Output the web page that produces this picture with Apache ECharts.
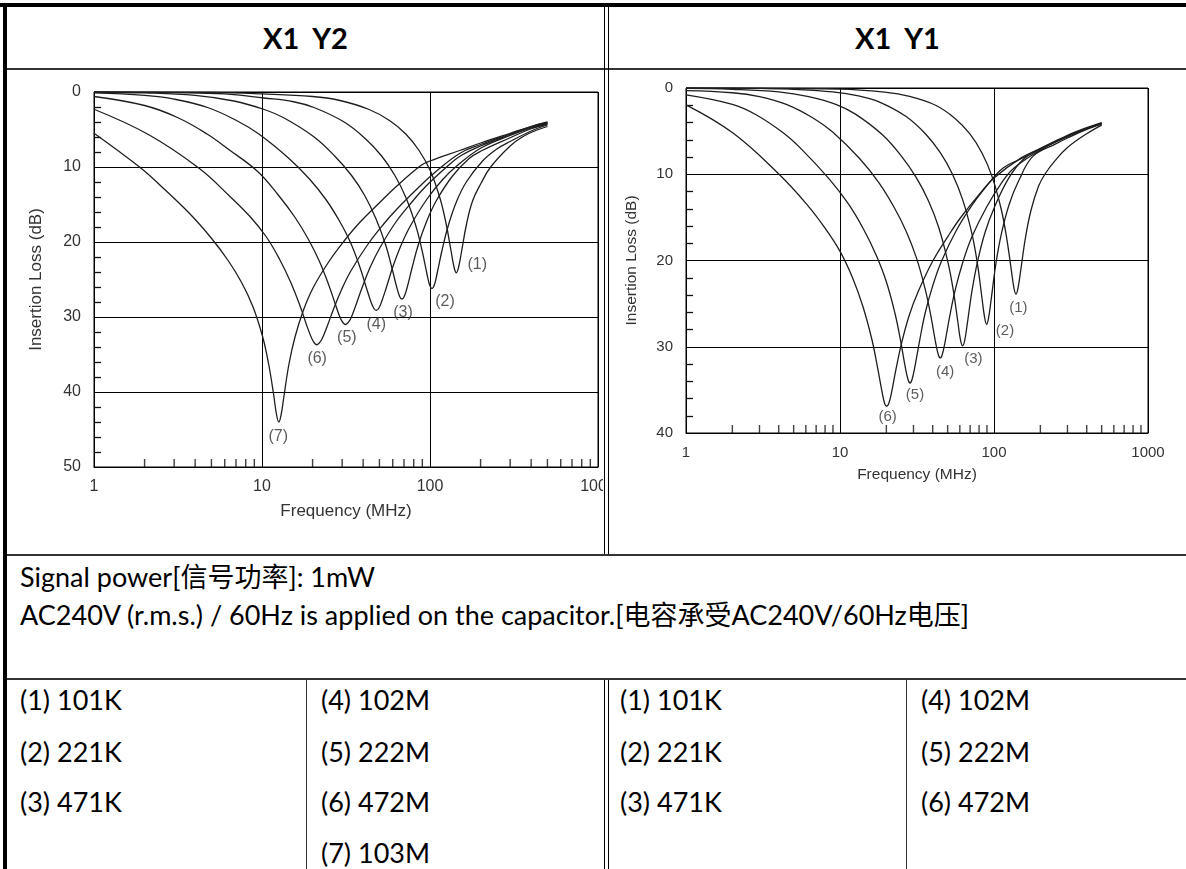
<!DOCTYPE html>
<html><head><meta charset="utf-8">
<script src="https://cdn.jsdelivr.net/npm/echarts@6/dist/echarts.min.js"></script>
<style>
html,body{margin:0;padding:0;background:#fff;}
body{width:1186px;height:869px;position:relative;overflow:hidden;font-family:Lato,"Noto Sans CJK SC",sans-serif;color:#000;}
.ln{position:absolute;background:#000;}
.t{position:absolute;white-space:pre;font-size:27px;height:30px;line-height:30px;}
.h{position:absolute;white-space:pre;font-weight:bold;font-size:29px;height:34px;line-height:34px;text-align:center;}
.chart{position:absolute;overflow:hidden;}
</style></head><body>
<div class="ln" style="left:0;top:3px;width:1186px;height:4px"></div>
<div class="ln" style="left:3px;top:3px;width:4px;height:866px"></div>
<div class="ln" style="left:7px;top:68px;width:1179px;height:2px;background:#333"></div>
<div class="ln" style="left:604px;top:7px;width:1px;height:547px"></div>
<div class="ln" style="left:608px;top:7px;width:1px;height:547px"></div>
<div class="ln" style="left:7px;top:554px;width:1179px;height:2px;background:#333"></div>
<div class="ln" style="left:7px;top:678px;width:1179px;height:2px;background:#333"></div>
<div class="ln" style="left:604px;top:680px;width:1px;height:189px"></div>
<div class="ln" style="left:608px;top:680px;width:1px;height:189px"></div>
<div class="ln" style="left:306px;top:680px;width:1px;height:189px;background:#333"></div>
<div class="ln" style="left:906px;top:680px;width:1px;height:189px;background:#333"></div>

<div class="h" style="left:7px;width:597px;top:21px">X1  Y2</div>
<div class="h" style="left:609px;width:577px;top:21px">X1  Y1</div>

<div class="t" style="left:20px;top:562px">Signal power[信号功率]: 1mW</div>
<div class="t" style="left:20px;top:600px">AC240V (r.m.s.) / 60Hz is applied on the capacitor.[电容承受AC240V/60Hz电压]</div>

<div id="tbl"></div>

<div id="c1" class="chart" style="left:8px;top:71px;width:595px;height:482px"></div>
<div id="c2" class="chart" style="left:609px;top:71px;width:577px;height:482px"></div>

<script>
// ---------- X1 Y2 (left chart) ----------
const freqL1=[1,5,10,20,28.7,43.05,57.4,71.75,86.1,100.45,114.8,124.8,133.5,139.2,143.5,147.8,153.5,165,179.4,200.9,229.6,300,360,430,500];
const lossL1=[0,0.05,0.25,0.6,1.1,2.3,3.8,5.6,7.8,10.5,14.2,17.6,21.2,23.4,24.1,23.4,21.5,17.6,14.5,12.2,10.0,7.2,5.9,5.1,4.6];
const freqL2=[1,3,6,10.28,15.42,20.56,30.84,41.12,51.4,61.68,71.96,82.24,89.44,95.6,99.7,102.8,105.9,110,118.2,128.5,143.9,164.5,205.6,250,300,400,500];
const lossL2=[0,0.08,0.25,0.8,1.3,2.1,4.0,6.2,8.5,11.1,14.1,17.8,21.0,24.1,25.8,26.2,25.8,24.3,21.0,17.8,14.6,12.0,9.2,7.6,6.6,5.2,4.4];
const freqL3=[1,2,4,6.81,10.2,13.62,20.43,27.24,34.05,40.86,47.67,54.48,59.25,63.33,66.06,68.1,70.14,72.87,78.3,85.1,95.3,109,136.2,170.3,200,300,400,500];
const lossL3=[0.03,0.12,0.45,1.2,2.3,3.5,6.0,8.6,11.1,13.8,16.9,20.4,23.4,26.0,27.3,27.6,27.3,26.2,23.4,20.4,17.3,14.5,11.2,8.9,7.9,6.1,4.9,4.3];
const freqL4=[1,2,3,4.79,7.185,9.58,14.37,19.16,23.95,28.74,33.53,38.32,41.67,44.55,46.46,47.9,49.34,51.25,55.09,59.9,67.06,76.64,95.8,119.75,143.7,200,300,400,500];
const lossL4=[0.12,0.45,0.95,2.1,3.9,5.6,8.8,11.6,14.3,17.1,20.0,23.4,26.0,28.0,28.9,29.1,28.9,28.1,26.0,23.4,20.5,17.8,14.3,11.6,9.9,7.5,5.8,4.8,4.2];
const freqL5=[1,2,3.14,4.71,6.28,9.42,12.56,15.7,18.84,21.98,25.12,27.32,29.2,30.46,31.4,32.34,33.6,36.11,39.25,43.96,50.24,62.8,78.5,94.2,125.6,150,200,300,400,500];
const lossL5=[0.6,1.8,3.4,5.6,7.6,10.6,13.8,16.7,19.6,22.6,25.9,28.3,30.1,30.8,31.0,30.8,30.3,28.5,26.2,23.4,20.8,17.3,14.6,12.6,10.0,8.6,7.2,5.7,4.7,4.1];
const freqL6=[1,2.12,4.24,6.36,8.48,10.6,12.72,14.84,16.96,18.44,19.72,20.56,21.2,21.84,22.68,24.38,26.5,29.68,33.92,42.4,53,63.6,84.8,106,150,200,300,400,500];
const lossL6=[2.3,5.7,10.2,13.8,16.6,19.3,22.3,25.4,28.7,31.1,32.8,33.5,33.7,33.5,33.0,31.3,29.1,26.4,23.8,20.4,17.6,15.6,12.8,10.8,8.2,7.0,5.6,4.6,4.1];
const freqL7=[1,1.89,2.52,3.78,5.04,6.3,7.56,8.82,10.08,10.96,11.72,12.22,12.6,12.98,13.48,14.49,15.75,17.64,20.16,25.2,31.5,37.8,50.4,63,88.2,100,150,200,300,400,500];
const lossL7=[5.5,10.1,12.6,16.4,19.6,22.5,25.4,28.6,32.6,36.3,40.3,43.1,44.0,43.1,40.7,36.2,32.6,29.1,26.1,22.5,19.6,17.5,14.7,12.6,9.8,9.2,7.8,6.8,5.5,4.6,4.0];
const labelTextL=['(1)','(2)','(3)','(4)','(5)','(6)','(7)'];
const labelFreqL=[191,122.8,69,47.9,32,21.3,12.5];
const labelLossL=[23.0,27.9,29.4,31.0,32.8,35.6,46.0];

// ---------- X1 Y1 (right chart) ----------
const freqR1=[1,10,20,27.8,41.7,55.6,69.5,83.4,97.3,111.2,120.9,129.3,134.8,139,143.2,148.7,159.9,173.75,194.6,214,250,300,400,500];
const lossR1=[0,0.12,0.5,0.95,2.0,3.5,5.3,7.5,10.3,14.0,17.4,21.0,23.2,23.9,23.2,21.3,17.4,14.2,11.4,10.0,8.4,6.9,5.3,4.3];
const freqR2=[1,3,5,8.96,13.44,17.92,26.88,35.84,44.8,53.76,62.72,71.68,77.95,83.33,86.9,89.6,92.3,95.87,103,112,125.4,143.4,179.2,250,300,400,500];
const lossR2=[0,0.05,0.15,0.45,0.95,1.6,3.3,5.3,7.5,10.0,13.0,16.8,20.3,24.2,26.6,27.4,26.6,24.5,20.3,16.8,13.5,10.9,7.9,6.5,5.8,4.8,4.2];
const freqR3=[1,2,4,6.26,9.39,12.52,18.78,25.04,31.3,37.56,43.82,50.08,54.46,58.22,60.7,62.6,64.5,66.98,72,78.25,87.64,100.2,125.2,156.5,200,300,400,500];
const lossR3=[0.05,0.15,0.45,1.0,1.9,3.0,5.4,7.9,10.4,13.1,16.2,20.1,23.5,27.1,29.3,29.9,29.3,27.4,23.5,20.1,16.7,13.9,10.4,8.2,7.1,5.6,4.7,4.1];
const freqR4=[1,2,3,4.48,6.72,8.96,13.44,17.92,22.4,26.88,31.36,35.84,38.98,41.66,43.46,44.8,46.14,47.94,51.52,56,62.72,71.68,89.6,112,134.4,200,300,400,500];
const lossR4=[0.3,0.55,1.0,1.9,3.5,5.1,8.2,11.0,13.8,16.6,19.7,23.4,26.5,29.4,30.9,31.3,30.9,29.6,26.5,23.4,20.2,17.3,13.8,11.0,9.3,7.2,5.6,4.7,4.1];
const freqR5=[1,2,2.85,4.275,5.7,8.55,11.4,14.25,17.1,19.95,22.8,24.8,26.5,27.65,28.5,29.36,30.5,32.8,35.6,39.9,45.6,57,71.25,85.5,114,150,200,300,400,500];
const lossR5=[0.8,1.9,3.1,5.2,7.2,10.6,13.5,16.4,19.3,22.4,26.2,29.4,32.3,33.8,34.2,33.8,32.5,29.4,26.2,23.0,20.1,16.5,13.7,11.8,9.3,8.2,7.1,5.6,4.7,4.1];
const freqR6=[1,2.01,4.02,6.03,8.04,10.05,12.06,14.07,16.08,17.49,18.69,19.5,20.1,20.7,21.51,23.1,25.1,28.1,32.2,40.2,50.25,60.3,80.4,100.5,150,200,300,400,500];
const lossR6=[1.95,5.2,10.0,13.4,16.3,19.0,22.0,25.3,29.1,32.3,35.1,36.6,36.9,36.6,35.5,32.6,29.6,26.4,23.6,20.0,17.2,15.1,12.3,10.4,8.1,7.0,5.5,4.6,4.0];
const labelTextR=['(1)','(2)','(3)','(4)','(5)','(6)'];
const labelFreqR=[143.9,117.9,73.4,48.1,30.7,20.4];
const labelLossR=[25.5,28.1,31.4,32.9,35.6,38.1];

// shared
const minorFreq=[2,3,4,5,6,7,8,9,20,30,40,50,60,70,80,90,200,300,400,500,600,700,800,900];
const yMaxL=50, yMaxR=40;

// bottom table
const legendCol1=['(1) 101K','(2) 221K','(3) 471K',''];
const legendCol2=['(4) 102M','(5) 222M','(6) 472M','(7) 103M'];
const legendCol3=['(1) 101K','(2) 221K','(3) 471K',''];
const legendCol4=['(4) 102M','(5) 222M','(6) 472M',''];
const rowTops=[685,737,787,838];
const colLefts=[20,321,620,921];
(function(){
  const tbl=document.getElementById('tbl');
  [legendCol1,legendCol2,legendCol3,legendCol4].forEach((col,ci)=>{
    col.forEach((txt,ri)=>{
      if(!txt) return;
      const d=document.createElement('div');
      d.className='t';
      d.style.left=colLefts[ci]+'px';
      d.style.top=rowTops[ri]+'px';
      d.textContent=txt;
      tbl.appendChild(d);
    });
  });
})();

function buildOption(curves, lblF, lblL, lblT, yMax, g, fs){
  const series=curves.map(c=>({
    type:'line', data:c[0].map((x,i)=>[x,c[1][i]]), symbol:'none', showSymbol:false,
    smooth:0.4, lineStyle:{color:'#1e1e1e',width:1.3}, silent:true, z:3
  }));
  series.push({type:'scatter', data:minorFreq.map(v=>[v,yMax]), symbol:'rect', symbolSize:[1.4,8], symbolOffset:[0,-4],
    itemStyle:{color:'#111'}, silent:true, z:4, clip:false});
  series.push({type:'scatter', data:lblF.map((v,i)=>({value:[v,lblL[i]], label:{formatter:lblT[i]}})), symbolSize:0,
    label:{show:true, position:'inside', color:'#333', fontSize:fs.lbl, fontFamily:'Liberation Sans'}, silent:true, z:5});
  const txt={color:'#333', fontFamily:'Liberation Sans'};
  return {
    animation:false,
    grid:{left:g.left, top:g.top, width:g.width, height:g.height, show:true, borderColor:'#000', borderWidth:1, containLabel:false, outerBoundsMode:'none'},
    xAxis:{type:'log', logBase:10, min:1, max:1000,
      axisLine:{show:true, onZero:false, lineStyle:{color:'#000',width:1}},
      axisTick:{show:false},
      axisLabel:Object.assign({fontSize:fs.tick, margin:12, formatter:v=>String(Math.round(v))},txt),
      splitLine:{show:true, lineStyle:{color:'#000',width:1}},
      name:'Frequency (MHz)', nameLocation:'middle', nameGap:g.xGap, nameTextStyle:Object.assign({fontSize:fs.name},txt)},
    yAxis:{type:'value', inverse:true, min:0, max:yMax, interval:10,
      axisLine:{show:true, onZero:false, lineStyle:{color:'#000',width:1}},
      axisTick:{show:true, inside:true, length:7, lineStyle:{color:'#000'}},
      minorTick:{show:true, splitNumber:5, length:7, lineStyle:{color:'#111',width:1.3}},
      axisLabel:Object.assign({fontSize:fs.tick, margin:13},txt),
      splitLine:{show:true, lineStyle:{color:'#000',width:1}},
      name:'Insertion Loss (dB)', nameLocation:'middle', nameGap:g.yGap, nameRotate:90, nameTextStyle:Object.assign({fontSize:fs.name},txt)},
    series
  };
}

const leftCurves=[[freqL1,lossL1],[freqL2,lossL2],[freqL3,lossL3],[freqL4,lossL4],[freqL5,lossL5],[freqL6,lossL6],[freqL7,lossL7]];
const rightCurves=[[freqR1,lossR1],[freqR2,lossR2],[freqR3,lossR3],[freqR4,lossR4],[freqR5,lossR5],[freqR6,lossR6]];

const ch1=echarts.init(document.getElementById('c1'),null,{renderer:'canvas'});
ch1.setOption(buildOption(leftCurves,labelFreqL,labelLossL,labelTextL,yMaxL,
  {left:86,top:21,width:504,height:375,xGap:36,yGap:49},{tick:16,name:17,lbl:16}));
const ch2=echarts.init(document.getElementById('c2'),null,{renderer:'canvas'});
ch2.setOption(buildOption(rightCurves,labelFreqR,labelLossR,labelTextR,yMaxR,
  {left:77,top:17,width:462,height:345,xGap:34,yGap:46},{tick:15,name:15.5,lbl:15}));
</script>
</body></html>
